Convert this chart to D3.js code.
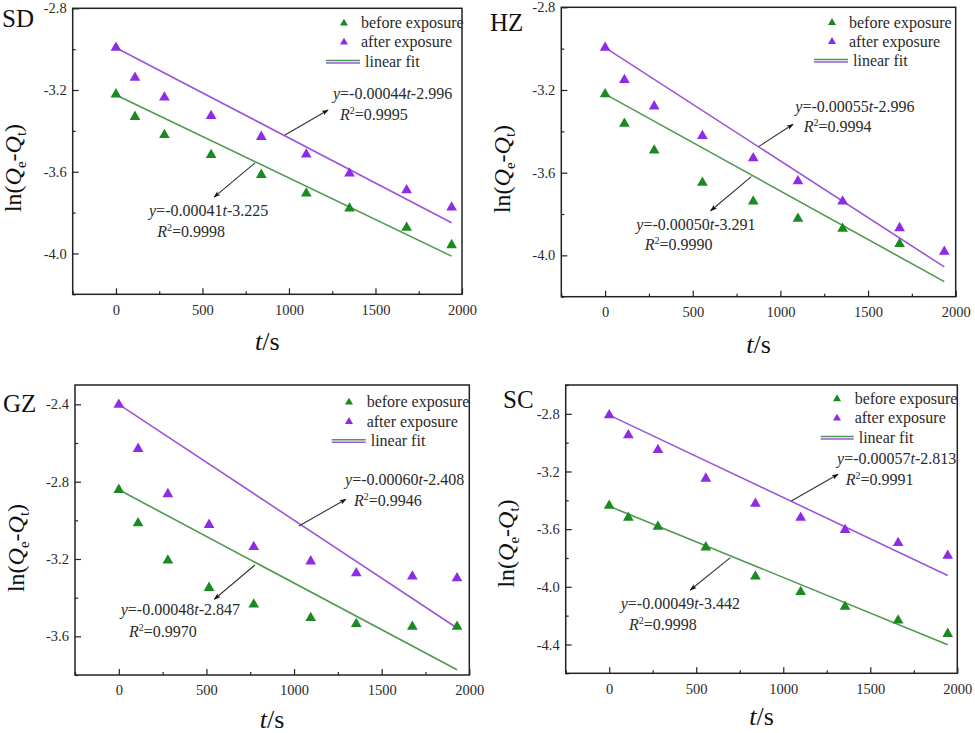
<!DOCTYPE html>
<html>
<head>
<meta charset="utf-8">
<script src="https://cdn.jsdelivr.net/npm/d3@7"></script>
<style>
  html, body { margin: 0; padding: 0; background: #fff; }
  svg { display: block; }
  svg text { font-family: "Liberation Serif", "Times New Roman", serif; }
</style>
</head>
<body>
<svg id="chart" width="975" height="733"></svg>
<script>
// ---------------- DATA ----------------
const panelNames = ["SD", "HZ", "GZ", "SC"];
const xTickValues = [0, 500, 1000, 1500, 2000];
const legendLabels = ["before exposure", "after exposure", "linear fit"];

// time points (s)
const tSD = [0, 110, 280, 550, 840, 1100, 1350, 1680, 1940];
const tHZ = [0, 110, 280, 555, 845, 1100, 1355, 1680, 1935];
const tGZ = [0, 110, 280, 515, 770, 1095, 1355, 1675, 1930];
const tSC = [0, 110, 280, 555, 840, 1100, 1355, 1660, 1945];

// ln(Qe-Qt) before exposure
const beforeSD = [-3.221, -3.331, -3.420, -3.518, -3.615, -3.706, -3.780, -3.874, -3.959];
const beforeHZ = [-3.220, -3.363, -3.492, -3.648, -3.739, -3.823, -3.871, -3.945];
const beforeGZ = [-2.842, -3.015, -3.207, -3.349, -3.435, -3.505, -3.536, -3.550, -3.550];
const beforeSC = [-3.437, -3.520, -3.583, -3.726, -3.928, -4.036, -4.138, -4.233, -4.326];

// ln(Qe-Qt) after exposure
const afterSD = [-2.993, -3.140, -3.236, -3.327, -3.429, -3.515, -3.608, -3.690, -3.775];
const afterHZ = [-2.995, -3.151, -3.279, -3.422, -3.530, -3.641, -3.739, -3.868, -3.982];
const afterGZ = [-2.402, -2.630, -2.864, -3.023, -3.138, -3.212, -3.273, -3.290, -3.299];
const afterSC = [-2.809, -2.948, -3.050, -3.249, -3.423, -3.520, -3.606, -3.696, -3.784];

// drawn fit lines (start / end)
const fitBeforeSD = [[0, -3.224], [1940, -4.013]];
const fitAfterSD  = [[0, -2.993], [1940, -3.850]];
const fitBeforeHZ = [[0, -3.220], [1935, -4.127]];
const fitAfterHZ  = [[0, -2.995], [1935, -4.056]];
const fitBeforeGZ = [[0, -2.842], [1930, -3.773]];
const fitAfterGZ  = [[0, -2.400], [1930, -3.557]];
const fitBeforeSC = [[0, -3.441], [1945, -4.402]];
const fitAfterSC  = [[0, -2.809], [1945, -3.921]];

// equations
const slopeBefore = ["0.00041", "0.00050", "0.00048", "0.00049"];
const interBefore = ["3.225", "3.291", "2.847", "3.442"];
const r2Before    = ["0.9998", "0.9990", "0.9970", "0.9998"];
const slopeAfter  = ["0.00044", "0.00055", "0.00060", "0.00057"];
const interAfter  = ["2.996", "2.996", "2.408", "2.813"];
const r2After     = ["0.9995", "0.9994", "0.9946", "0.9991"];

// y-axis domains
const yDomains = [[-4.2, -2.8], [-4.2, -2.8], [-3.8, -2.3], [-4.6, -2.6]];
const yMajorTicks = [
  [-2.8, -3.2, -3.6, -4.0],
  [-2.8, -3.2, -3.6, -4.0],
  [-2.4, -2.8, -3.2, -3.6],
  [-2.8, -3.2, -3.6, -4.0, -4.4]
];

// ---------------- LAYOUT ----------------
const layout = [
  { L: 72.7, R: 462, T: 8.3, B: 294.3, lab: [2, 27], yt: [21, 168], xt: 56,
    leg: { tri: 344, txt: 361, l1: 326, l2: 360, lt: 365, rows: [23.3, 42.3, 61.7] },
    annA: { from: [977, -3.420], to: [1226, -3.298], eq: [1254, -3.244], r2: [1295, -3.347] },
    annB: { from: [804, -3.557], to: [567, -3.724], eq: [191, -3.817], r2: [238, -3.920] } },
  { L: 561.3, R: 955.7, T: 7.3, B: 296.7, lab: [490, 31], yt: [509.7, 169], xt: 56,
    leg: { tri: 832, txt: 849, l1: 814, l2: 848, lt: 853, rows: [22.7, 41.7, 60.7] },
    annA: { from: [876, -3.474], to: [1072, -3.366], eq: [1085, -3.305], r2: [1133, -3.405] },
    annB: { from: [834, -3.619], to: [602, -3.784], eq: [178, -3.877], r2: [226, -3.974] } },
  { L: 75, R: 469.3, T: 385, B: 675, lab: [3, 411.7], yt: [24, 548], xt: 53,
    leg: { tri: 349, txt: 366.7, l1: 331.7, l2: 365.7, lt: 370.7, rows: [402.3, 421.7, 441] },
    annA: { from: [1028, -3.029], to: [1296, -2.891], eq: [1291, -2.817], r2: [1342, -2.926] },
    annB: { from: [777, -3.231], to: [545, -3.408], eq: [11, -3.490], r2: [58, -3.602] } },
  { L: 565.7, R: 957.3, T: 385, B: 673.3, lab: [503, 408.3], yt: [514, 543.5], xt: 52,
    leg: { tri: 837, txt: 854.7, l1: 820.7, l2: 853.7, lt: 858.7, rows: [399, 418.3, 437.7] },
    annA: { from: [1046, -3.405], to: [1315, -3.219], eq: [1309, -3.150], r2: [1359, -3.294] },
    annB: { from: [696, -3.798], to: [466, -4.022], eq: [66, -4.156], r2: [114, -4.300] } }
];

const series = [
  { t: tSD, b: beforeSD, a: afterSD, fb: fitBeforeSD, fa: fitAfterSD },
  { t: tHZ, b: beforeHZ, a: afterHZ, fb: fitBeforeHZ, fa: fitAfterHZ },
  { t: tGZ, b: beforeGZ, a: afterGZ, fb: fitBeforeGZ, fa: fitAfterGZ },
  { t: tSC, b: beforeSC, a: afterSC, fb: fitBeforeSC, fa: fitAfterSC }
];

const C = {
  greenMark: "#1b8a22", purpleMark: "#8e2be6",
  greenLine: "#4f9a4f", purpleLine: "#9a56dc",
  axis: "#222", text: "#2a2a2a", arrow: "#333"
};
const SERIF = '"Liberation Serif", "Times New Roman", serif';

const svg = d3.select("#chart");
const defs = svg.append("defs");
defs.append("marker").attr("id", "arrowhead")
  .attr("viewBox", "0 0 10 10").attr("refX", 9).attr("refY", 5)
  .attr("markerWidth", 7).attr("markerHeight", 7)
  .attr("markerUnits", "userSpaceOnUse")
  .attr("orient", "auto")
  .append("path").attr("d", "M0,1.5 L10,5 L0,8.5 L2.5,5 Z").attr("fill", "#111");

const tri = d3.symbol().type(d3.symbolTriangle);

panelNames.forEach((name, i) => {
  const P = layout[i], S = series[i];
  const x = d3.scaleLinear().domain([-250, 2000]).range([P.L, P.R]);
  const y = d3.scaleLinear().domain(yDomains[i]).range([P.B, P.T]);
  const g = svg.append("g").attr("font-family", SERIF);

  // axes with inward ticks
  const xMinor = [-250, 250, 750, 1250, 1750];
  const yMinor = d3.range(yDomains[i][0], yDomains[i][1] + 1e-9, 0.2)
    .filter(v => !yMajorTicks[i].some(m => Math.abs(m - v) < 1e-6));

  const xAxis = d3.axisBottom(x).tickValues(xTickValues).tickSize(-6).tickPadding(10).tickFormat(d3.format("d"));
  const gx = g.append("g").attr("transform", `translate(0,${P.B})`).call(xAxis);
  const xAxisMin = d3.axisBottom(x).tickValues(xMinor).tickSize(-3).tickFormat("");
  const gxm = g.append("g").attr("transform", `translate(0,${P.B})`).call(xAxisMin);

  const yAxis = d3.axisLeft(y).tickValues(yMajorTicks[i]).tickSize(-6).tickPadding(6).tickFormat(d3.format(".1f"));
  const gy = g.append("g").attr("transform", `translate(${P.L},0)`).call(yAxis);
  const yAxisMin = d3.axisLeft(y).tickValues(yMinor).tickSize(-3).tickFormat("");
  const gym = g.append("g").attr("transform", `translate(${P.L},0)`).call(yAxisMin);

  [gx, gxm, gy, gym].forEach(a => {
    a.attr("font-family", SERIF);
    a.select(".domain").remove();
    a.selectAll("line").attr("stroke", C.axis).attr("stroke-width", 1.2);
    a.selectAll("text").attr("fill", C.text)
      .style("font-family", SERIF).style("font-size", "14.5px");
  });
  gx.selectAll("text").attr("dy", "0.71em");
  gy.selectAll("text").text(d => d3.format(".1f")(d).replace("\u2212", "-"));

  // frame
  g.append("rect").attr("x", P.L).attr("y", P.T)
    .attr("width", P.R - P.L).attr("height", P.B - P.T)
    .attr("fill", "none").attr("stroke", C.axis).attr("stroke-width", 1.5);

  // fit lines
  const line = d3.line().x(d => x(d[0])).y(d => y(d[1]));
  g.append("path").attr("d", line(S.fb)).attr("fill", "none")
    .attr("stroke", C.greenLine).attr("stroke-width", 1.6);
  g.append("path").attr("d", line(S.fa)).attr("fill", "none")
    .attr("stroke", C.purpleLine).attr("stroke-width", 1.6);

  // markers
  g.selectAll(".mb").data(S.b).enter().append("path")
    .attr("transform", (d, k) => `translate(${x(S.t[k])},${y(d)})`)
    .attr("d", tri.size(50)()).attr("fill", C.greenMark);
  g.selectAll(".ma").data(S.a).enter().append("path")
    .attr("transform", (d, k) => `translate(${x(S.t[k])},${y(d)})`)
    .attr("d", tri.size(50)()).attr("fill", C.purpleMark);

  // panel label
  g.append("text").attr("x", P.lab[0]).attr("y", P.lab[1])
    .attr("fill", "#111").style("font-size", "25px").text(name);

  // y title
  const yt = g.append("text")
    .attr("transform", `translate(${P.yt[0]},${P.yt[1]}) rotate(-90)`)
    .attr("text-anchor", "middle").attr("fill", "#111").style("font-size", "24px");
  yt.append("tspan").text("ln(");
  yt.append("tspan").style("font-style", "italic").text("Q");
  yt.append("tspan").attr("dy", 5).style("font-size", "15px").text("e");
  yt.append("tspan").attr("dy", -5).text("-");
  yt.append("tspan").style("font-style", "italic").text("Q");
  yt.append("tspan").attr("dy", 5).style("font-size", "15px").text("t");
  yt.append("tspan").attr("dy", -5).text(")");

  // x title
  const xt = g.append("text").attr("x", (P.L + P.R) / 2).attr("y", P.B + P.xt)
    .attr("text-anchor", "middle").attr("fill", "#111").style("font-size", "26px");
  xt.append("tspan").style("font-style", "italic").text("t");
  xt.append("tspan").text("/s");

  // legend
  const Lg = P.leg;
  [[C.greenMark, 0], [C.purpleMark, 1]].forEach(([col, r]) => {
    g.append("path").attr("transform", `translate(${Lg.tri},${Lg.rows[r]})`)
      .attr("d", tri.size(28)()).attr("fill", col);
    g.append("text").attr("x", Lg.txt).attr("y", Lg.rows[r] + 5)
      .attr("fill", C.text).style("font-size", "16px").text(legendLabels[r]);
  });
  g.append("line").attr("x1", Lg.l1).attr("x2", Lg.l2)
    .attr("y1", Lg.rows[2] - 1.3).attr("y2", Lg.rows[2] - 1.3)
    .attr("stroke", C.greenLine).attr("stroke-width", 1.5);
  g.append("line").attr("x1", Lg.l1).attr("x2", Lg.l2)
    .attr("y1", Lg.rows[2] + 1.3).attr("y2", Lg.rows[2] + 1.3)
    .attr("stroke", C.purpleLine).attr("stroke-width", 1.5);
  g.append("text").attr("x", Lg.lt).attr("y", Lg.rows[2] + 5)
    .attr("fill", C.text).style("font-size", "16px").text(legendLabels[2]);

  // annotations
  function eqText(pos, slope, inter) {
    const t = g.append("text").attr("x", x(pos[0])).attr("y", y(pos[1]))
      .attr("fill", C.text).style("font-size", "16px");
    t.append("tspan").style("font-style", "italic").text("y");
    t.append("tspan").text("=-" + slope);
    t.append("tspan").style("font-style", "italic").text("t");
    t.append("tspan").text("-" + inter);
  }
  function r2Text(pos, r2) {
    const t = g.append("text").attr("x", x(pos[0])).attr("y", y(pos[1]))
      .attr("fill", C.text).style("font-size", "16px");
    t.append("tspan").style("font-style", "italic").text("R");
    t.append("tspan").attr("dy", -6).style("font-size", "10px").text("2");
    t.append("tspan").attr("dy", 6).text("=" + r2);
  }
  function arrow(a) {
    g.append("line").attr("x1", x(a.from[0])).attr("y1", y(a.from[1]))
      .attr("x2", x(a.to[0])).attr("y2", y(a.to[1]))
      .attr("stroke", C.arrow).attr("stroke-width", 1.1)
      .attr("marker-end", "url(#arrowhead)");
  }
  arrow(P.annA); eqText(P.annA.eq, slopeAfter[i], interAfter[i]); r2Text(P.annA.r2, r2After[i]);
  arrow(P.annB); eqText(P.annB.eq, slopeBefore[i], interBefore[i]); r2Text(P.annB.r2, r2Before[i]);
});
</script>
</body>
</html>
